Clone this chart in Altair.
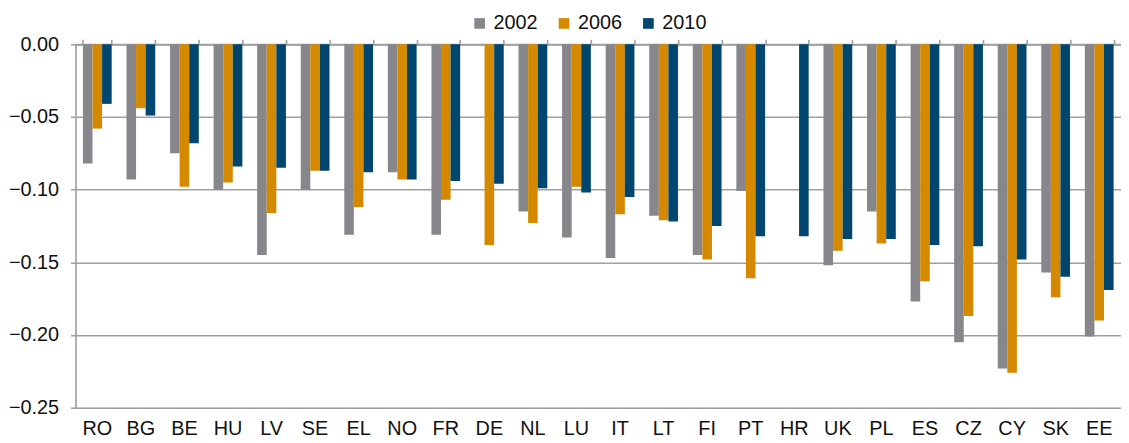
import altair as alt
import pandas as pd

countries = ["RO", "BG", "BE", "HU", "LV", "SE", "EL", "NO", "FR", "DE", "NL", "LU",
             "IT", "LT", "FI", "PT", "HR", "UK", "PL", "ES", "CZ", "CY", "SK", "EE"]
years = ["2002", "2006", "2010"]
v2002 = [-0.082, -0.093, -0.075, -0.100, -0.145, -0.100, -0.131, -0.088, -0.131, None,
         -0.115, -0.133, -0.147, -0.118, -0.145, -0.101, None, -0.152, -0.115, -0.177,
         -0.205, -0.223, -0.157, -0.201]
v2006 = [-0.058, -0.044, -0.098, -0.095, -0.116, -0.087, -0.112, -0.093, -0.107, -0.138,
         -0.123, -0.098, -0.117, -0.121, -0.148, -0.161, None, -0.142, -0.137, -0.163,
         -0.187, -0.226, -0.174, -0.190]
v2010 = [-0.041, -0.049, -0.068, -0.084, -0.085, -0.087, -0.088, -0.093, -0.094, -0.096,
         -0.099, -0.102, -0.105, -0.122, -0.125, -0.132, -0.132, -0.134, -0.134, -0.138,
         -0.139, -0.148, -0.160, -0.169]
colors = ["#87868B", "#D58900", "#00466E"]
y_ticks = [0.0, -0.05, -0.10, -0.15, -0.20, -0.25]

rows = []
for yr, vals in zip(years, [v2002, v2006, v2010]):
    for c, v in zip(countries, vals):
        if v is not None:
            rows.append({"country": c, "year": yr, "value": v})
df = pd.DataFrame(rows)

FONT = "Liberation Sans"
GRID = "#A0A0A0"
FS = 20

xscale = alt.Scale(domain=countries, paddingInner=0.34, paddingOuter=0.17)

bars = alt.Chart(df).mark_bar().encode(
    x=alt.X("country:N", scale=xscale, sort=countries, title=None,
            axis=alt.Axis(orient="bottom", labelAngle=0, labelFont=FONT, labelFontSize=FS,
                          labelColor="#111111", ticks=False, domain=False, labelPadding=11)),
    xOffset=alt.XOffset("year:N", scale=alt.Scale(domain=years, paddingInner=0, paddingOuter=0)),
    y=alt.Y("value:Q", scale=alt.Scale(domain=[-0.25, 0], nice=False), title=None,
            axis=alt.Axis(values=y_ticks, format=".2f", labelFont=FONT, labelFontSize=FS,
                          labelColor="#111111", grid=True, gridColor=GRID, gridWidth=1.6,
                          domainColor=GRID, domainWidth=1.6, tickColor=GRID, tickWidth=1.6,
                          tickSize=5, labelPadding=12)),
    color=alt.Color("year:N", scale=alt.Scale(domain=years, range=colors), title=None,
                    legend=alt.Legend(orient="none", legendX=397, legendY=-31,
                                      direction="horizontal", symbolType="square",
                                      symbolSize=115, symbolStrokeWidth=0,
                                      labelFont=FONT, labelFontSize=FS,
                                      labelColor="#111111", columnPadding=16,
                                      labelOffset=4)),
)

top_ticks = alt.Chart(df).mark_bar(opacity=0).encode(
    x=alt.X("country:N", scale=xscale, sort=countries, title=None,
            axis=alt.Axis(orient="top", labels=False, domain=True, domainColor=GRID,
                          domainWidth=2, tickBand="extent", tickColor=GRID, tickWidth=1.6,
                          tickSize=5)),
    y=alt.Y("value:Q"),
)

chart = alt.layer(top_ticks, bars).resolve_axis(x="independent").properties(
    width=1053, height=366,
    autosize=alt.AutoSizeParams(type="none"),
    padding={"left": 68, "right": 0, "top": 35, "bottom": 30},
).configure_view(stroke=None).configure(background="white")

chart.save("out.html", embed_options={"renderer": "svg", "actions": False})
